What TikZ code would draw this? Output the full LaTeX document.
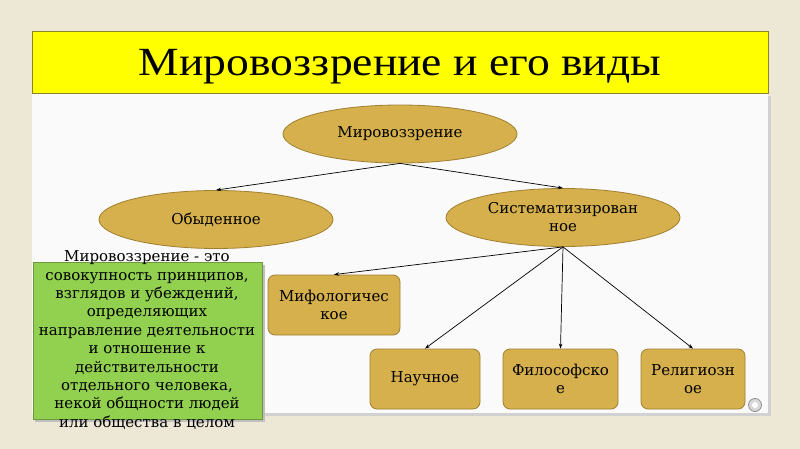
\documentclass[tikz,border=0pt]{standalone}
\usepackage{fontspec}
\setmainfont{DejaVu Serif}
\newfontfamily\titlefont{Liberation Serif}
\usetikzlibrary{shapes.geometric,arrows.meta}
\definecolor{canvas}{RGB}{237,231,214}
\definecolor{panel}{RGB}{250,250,250}
\definecolor{gold}{RGB}{214,176,76}
\definecolor{golddark}{RGB}{160,128,48}
\definecolor{leaf}{RGB}{146,208,80}
\definecolor{leafdark}{RGB}{110,150,60}
\definecolor{band}{RGB}{255,255,0}
\definecolor{banddark}{RGB}{140,130,40}
\tikzset{
  ell/.style={ellipse, draw=golddark, fill=gold, line width=0.8pt, inner sep=0pt,
    minimum width=234pt, minimum height=58pt, align=center,
    font=\fontsize{15}{18}\selectfont},
  kind/.style={rectangle, rounded corners=7pt, draw=golddark, fill=gold, line width=0.8pt,
    inner sep=0pt, minimum height=60pt, align=center,
    font=\fontsize{15}{18}\selectfont},
  arr/.style={-{Stealth[length=5pt,width=3.5pt]}, line width=0.7pt, black},
}
\begin{document}
\begin{tikzpicture}[x=1pt,y=-1pt]
\useasboundingbox (0,0) rectangle (800,449);
\fill[canvas] (0,0) rectangle (800,449);
% panel with soft shadow
\fill[black!18] (35,96) rectangle (771,416);
\fill[panel] (32,93) rectangle (768,413);
\node[draw=banddark, fill=band, line width=0.8pt, rectangle, inner sep=0pt,
  minimum width=736pt, minimum height=62pt, anchor=north west] (band) at (32,31) {};
\node[anchor=base, inner sep=0pt, font=\titlefont\fontsize{40}{44}\selectfont] (title) at (400,76) {\scalebox{1.14}[1]{Мировоззрение и его виды}};
% ellipses
\node[ell] (m) at (400,134) {Мировоззрение};
\node[ell] (o) at (216,219.5) {Обыденное};
\node[ell] (s) at (563,217.5) {Систематизирован\\ное};
% boxes
\node[kind, minimum width=132pt] (myth) at (334,305) {Мифологичес\\кое};
\node[kind, minimum width=110pt] (sci) at (425,379) {Научное};
\node[kind, minimum width=115pt] (phil) at (560.5,379) {Философско\\е};
\node[kind, minimum width=104pt] (rel) at (693,379) {Религиозн\\ое};
% arrows
\draw[arr] (m.south) -- (o.north);
\draw[arr] (m.south) -- (s.north);
\draw[arr] (s.south) -- (myth.north);
\draw[arr] (s.south) -- (sci.north);
\draw[arr] (s.south) -- (phil.north);
\draw[arr] (s.south) -- (rel.north);
% green definition box
\fill[black!25] (35,265) rectangle (265,422);
\node[draw=leafdark, fill=leaf, line width=0.8pt, rectangle, inner sep=0pt,
  minimum width=229pt, minimum height=157pt, anchor=north west] (def) at (33,262) {};
\node[align=center, font=\fontsize{15}{18.4}\selectfont] (deftext) at (147,340)
  {Мировоззрение - это\\совокупность принципов,\\взглядов и убеждений,\\определяющих\\направление деятельности\\и отношение к\\действительности\\отдельного человека,\\некой общности людей\\или общества в целом};
% navigation button
\node[circle, draw=black!45, fill=black!15, line width=0.8pt, minimum size=13pt, inner sep=0pt] (btn) at (755,405) {};
\node[circle, fill=white, minimum size=6pt, inner sep=0pt] (btnc) at (btn.center) {};
\end{tikzpicture}
\end{document}
